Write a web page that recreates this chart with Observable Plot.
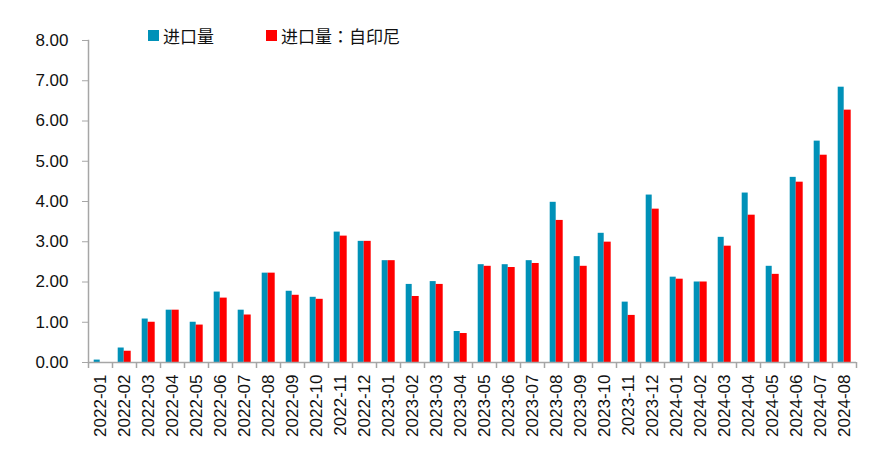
<!DOCTYPE html>
<html>
<head>
<meta charset="utf-8">
<script src="https://cdn.jsdelivr.net/npm/d3@7"></script>
<script src="https://cdn.jsdelivr.net/npm/@observablehq/plot@0.6"></script>
<style>
  body { margin: 0; background: #fff; }
  #wrap { position: relative; width: 886px; height: 473px; font-family: "Liberation Sans", Arial, sans-serif; }
  .legend { position: absolute; top: 23px; left: 148px; display: flex; align-items: center; font-family: "Noto Sans CJK TC", "Noto Sans CJK SC", sans-serif; font-size: 17px; color: #111; }
  .legend .item { display: flex; align-items: center; margin-right: 52px; }
  .legend .sw { width: 11px; height: 11px; margin-right: 4px; }
</style>
</head>
<body>
<div id="wrap"></div>
<script>
const months = ["2022-01","2022-02","2022-03","2022-04","2022-05","2022-06","2022-07","2022-08","2022-09","2022-10","2022-11","2022-12",
  "2023-01","2023-02","2023-03","2023-04","2023-05","2023-06","2023-07","2023-08","2023-09","2023-10","2023-11","2023-12",
  "2024-01","2024-02","2024-03","2024-04","2024-05","2024-06","2024-07","2024-08"];
const importTotal = [0.06,0.36,1.08,1.30,1.00,1.75,1.30,2.22,1.77,1.62,3.24,3.01,
  2.53,1.94,2.01,0.77,2.43,2.43,2.53,3.98,2.63,3.21,1.50,4.16,
  2.12,2.00,3.11,4.21,2.39,4.60,5.50,6.84];
const importIndonesia = [0.00,0.28,1.00,1.30,0.93,1.60,1.18,2.22,1.67,1.57,3.14,3.01,
  2.53,1.64,1.94,0.72,2.39,2.36,2.46,3.53,2.39,2.99,1.17,3.81,
  2.07,2.00,2.89,3.66,2.19,4.48,5.15,6.27];
const seriesNames = ["进口量", "进口量：自印尼"];
const seriesColors = ["#0091B8", "#FF0000"];
const yTicks = [0,1,2,3,4,5,6,7,8];

const data = months.map((m, i) => ({month: m, total: importTotal[i], indo: importIndonesia[i]}));
const gray = "#a6a6a6";

const chart = Plot.plot({
  width: 886,
  height: 473,
  marginLeft: 88,
  marginRight: 30,
  marginTop: 40,
  marginBottom: 111,
  style: { fontFamily: "'Liberation Sans', Arial, sans-serif", fontSize: "17px", background: "#fff" },
  x: { domain: months, padding: 0, label: null },
  y: { domain: [0, 8], label: null },
  marks: [
    Plot.barY(data, { x: "month", y: "total", fill: seriesColors[0], insetLeft: 5.7, insetRight: 12.3 }),
    Plot.barY(data, { x: "month", y: "indo", fill: seriesColors[1], insetLeft: 11.7, insetRight: 5.3 }),
    Plot.ruleY([0], { stroke: gray, strokeWidth: 1.5 }),
    Plot.frame({ anchor: "left", stroke: gray, strokeWidth: 1.5 }),
    Plot.axisY({ ticks: yTicks, tickFormat: d => d.toFixed(2), tickSize: 6, tickPadding: 14, stroke: gray, fill: "#111", fontSize: 17 }),
    Plot.axisX({ tickSize: 0, tickRotate: -90, tickPadding: 12, fill: "#111", fontSize: 17 }),
    Plot.axisX({ tickSize: 6, tickFormat: () => "", dx: -12, stroke: gray, strokeWidth: 1.5 }),
    Plot.axisX({ ticks: [months[months.length - 1]], tickSize: 6, tickFormat: () => "", dx: 12, stroke: gray, strokeWidth: 1.5 })
  ]
});

const wrap = document.getElementById("wrap");
wrap.appendChild(chart);
const legend = document.createElement("div");
legend.className = "legend";
seriesNames.forEach((n, i) => {
  const it = document.createElement("div");
  it.className = "item";
  const sw = document.createElement("span");
  sw.className = "sw";
  sw.style.background = seriesColors[i];
  const tx = document.createElement("span");
  tx.textContent = n;
  it.appendChild(sw); it.appendChild(tx);
  legend.appendChild(it);
});
wrap.appendChild(legend);
</script>
</body>
</html>
